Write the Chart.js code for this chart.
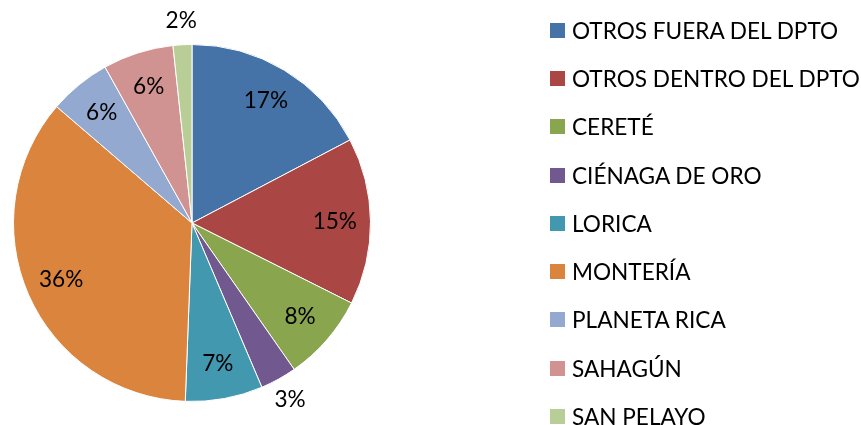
<!DOCTYPE html>
<html>
<head>
<meta charset="utf-8">
<script src="https://cdn.jsdelivr.net/npm/chart.js@4"></script>
<style>
  body { margin: 0; background: #fff; }
  #wrap { position: relative; width: 861px; height: 425px; }
  #legend { position: absolute; left: 550px; top: 6px; font-family: Lato, sans-serif; font-size: 22.6px; color: #000; }
  .item { height: 48.3px; display: flex; align-items: center; white-space: nowrap; }
  .box { width: 15px; height: 15px; margin-right: 7px; flex: none; }
</style>
</head>
<body>
<div id="wrap">
  <canvas id="pieChart" width="861" height="425"></canvas>
  <div id="legend"></div>
</div>
<script>
const categories = ["OTROS FUERA DEL DPTO", "OTROS DENTRO DEL DPTO", "CERETÉ", "CIÉNAGA DE ORO", "LORICA", "MONTERÍA", "PLANETA RICA", "SAHAGÚN", "SAN PELAYO"];
const shares = [17.3, 15.1, 7.9, 3.3, 7.0, 35.7, 5.6, 6.4, 1.7];
const colors = ['#4572A7', '#AA4643', '#89A54E', '#71588F', '#4198AF', '#DB843D', '#93A9CF', '#D19392', '#B9CD96'];

// percent labels, inside for big slices and outside for the small ones
const pctLabels = {
    id: 'pctLabels',
    afterDatasetsDraw(chart) {
        const ctx = chart.ctx;
        const arcs = chart.getDatasetMeta(0).data;
        const total = shares.reduce((a, b) => a + b, 0);
        ctx.save();
        ctx.font = '22.6px Lato, sans-serif';
        ctx.fillStyle = '#000';
        ctx.textAlign = 'center';
        ctx.textBaseline = 'middle';
        arcs.forEach((arc, i) => {
            const p = arc.getProps(['x', 'y', 'startAngle', 'endAngle', 'outerRadius'], true);
            const mid = (p.startAngle + p.endAngle) / 2;
            const pct = shares[i] / total * 100;
            const r = pct < 4 ? p.outerRadius + 24 : p.outerRadius * 0.8;
            ctx.fillText(Math.round(pct) + '%', p.x + Math.cos(mid) * r, p.y + Math.sin(mid) * r);
        });
        ctx.restore();
    }
};

const chart = new Chart(document.getElementById('pieChart'), {
    type: 'pie',
    data: {
        labels: categories,
        datasets: [{
            data: shares,
            backgroundColor: colors,
            borderColor: '#ffffff',
            borderWidth: 1
        }]
    },
    options: {
        responsive: false,
        animation: false,
        layout: { padding: { left: 13, top: 44, bottom: 23, right: 490 } },
        plugins: {
            legend: { display: false },
            tooltip: { enabled: false }
        }
    },
    plugins: [pctLabels]
});

const legendDiv = document.getElementById('legend');
chart.options.plugins.legend.labels.generateLabels(chart).forEach((item) => {
    const row = document.createElement('div');
    row.className = 'item';
    const box = document.createElement('span');
    box.className = 'box';
    box.style.background = item.fillStyle;
    row.appendChild(box);
    row.appendChild(document.createTextNode(item.text));
    legendDiv.appendChild(row);
});
</script>
</body>
</html>
